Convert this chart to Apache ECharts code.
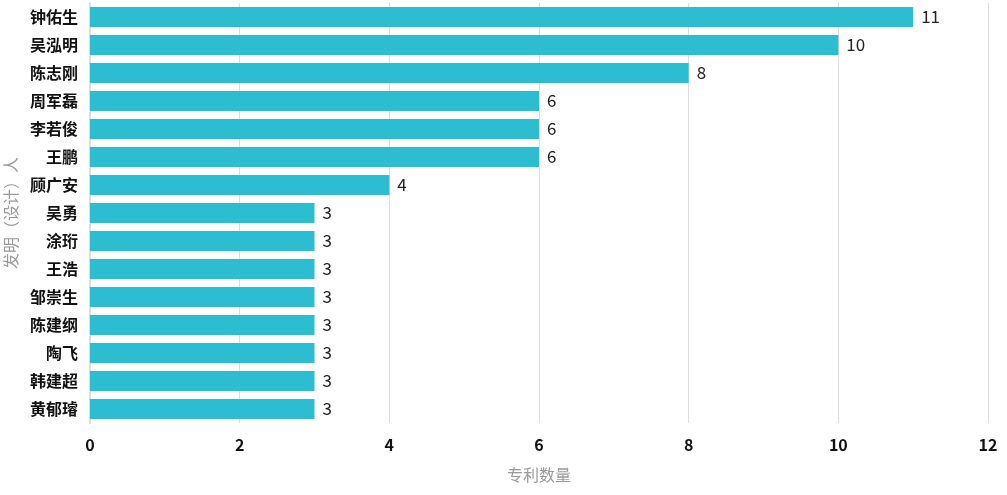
<!DOCTYPE html>
<html>
<head>
<meta charset="utf-8">
<script src="https://cdn.jsdelivr.net/npm/echarts@6/dist/echarts.min.js"></script>
<style>
  html, body { margin: 0; padding: 0; background: #fff; }
  #chart { width: 1007px; height: 495px; }
</style>
</head>
<body>
<div id="chart"></div>
<script>
// 发明人及专利数量
var inventors = ['钟佑生', '吴泓明', '陈志刚', '周军磊', '李若俊', '王鹏', '顾广安', '吴勇', '涂珩', '王浩', '邹崇生', '陈建纲', '陶飞', '韩建超', '黄郁璿'];
var patentCounts = [11, 10, 8, 6, 6, 6, 4, 3, 3, 3, 3, 3, 3, 3, 3];

var font = '"Noto Sans CJK SC", "Noto Sans", sans-serif';
var myChart = echarts.init(document.getElementById('chart'));
myChart.setOption({
    animation: false,
    textStyle: { fontFamily: font },
    grid: {
        left: 90,
        right: 19,
        top: 3,
        bottom: 72,
        containLabel: false,
        outerBoundsMode: 'none'
    },
    xAxis: {
        type: 'value',
        min: 0,
        max: 12,
        interval: 2,
        name: '专利数量',
        nameLocation: 'middle',
        nameGap: 44,
        nameTextStyle: { color: '#999', fontSize: 16, fontFamily: font },
        axisLine: { show: false },
        axisTick: { show: false },
        axisLabel: { color: '#111', fontSize: 16, fontWeight: 'bold', margin: 14, fontFamily: font },
        splitLine: { show: true, lineStyle: { color: '#ddd', width: 1 } }
    },
    yAxis: {
        type: 'category',
        inverse: true,
        data: inventors,
        name: '发明（设计）人',
        nameLocation: 'middle',
        nameGap: 68,
        nameTextStyle: { color: '#999', fontSize: 16, fontFamily: font },
        axisLine: { show: true, lineStyle: { color: '#ddd', width: 2 } },
        axisTick: { show: false },
        axisLabel: { color: '#111', fontSize: 16, fontWeight: 'bold', margin: 12, fontFamily: font }
    },
    series: [{
        type: 'bar',
        data: patentCounts,
        barWidth: '71%',
        itemStyle: { color: '#2dbdd0' },
        label: {
            show: true,
            position: 'right',
            distance: 8,
            color: '#222',
            fontSize: 17,
            fontFamily: font
        }
    }]
});
</script>
</body>
</html>
